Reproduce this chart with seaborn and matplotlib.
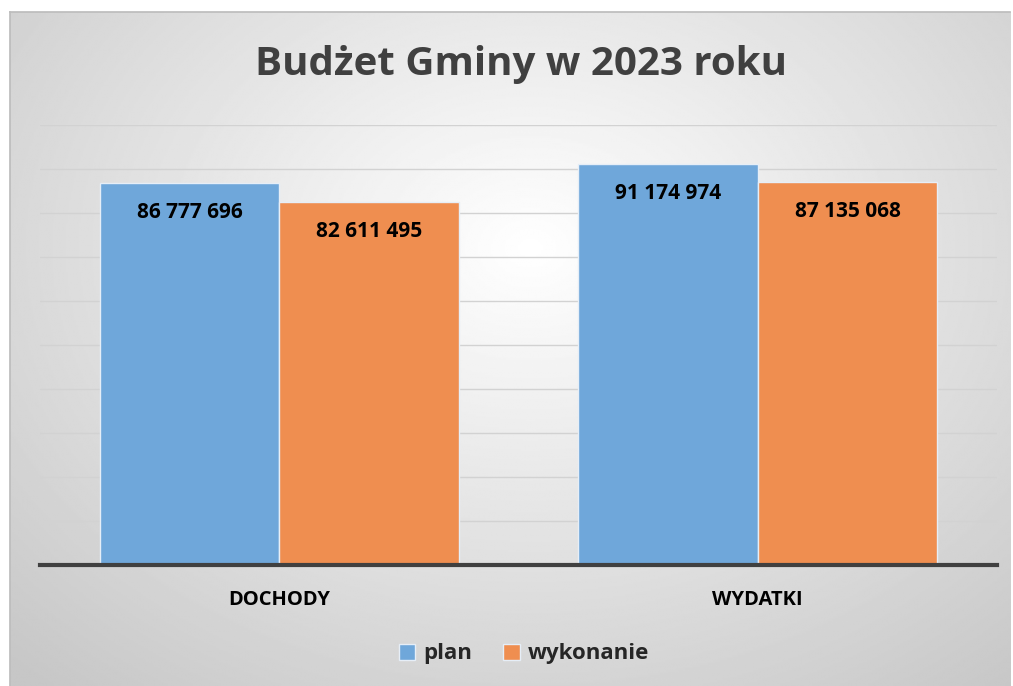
import matplotlib
matplotlib.use('Agg')

import matplotlib.pyplot as plt
import numpy as np
import pandas as pd
import seaborn as sns

# Data
categories = ["DOCHODY", "WYDATKI"]
series = ["plan", "wykonanie"]
plan = [86777696, 91174974]
wykonanie = [82611495, 87135068]
value_labels = {"plan": ["86 777 696", "91 174 974"],
                "wykonanie": ["82 611 495", "87 135 068"]}

df = pd.DataFrame({
    "kategoria": categories * 2,
    "seria": ["plan"] * 2 + ["wykonanie"] * 2,
    "wartosc": plan + wykonanie,
})

colors = {"plan": "#6fa7da", "wykonanie": "#ef8e50"}

sns.set_theme(style="white")
plt.rcParams['font.family'] = ['Open Sans', 'DejaVu Sans']

fig = plt.figure(figsize=(10.13, 6.86), dpi=100)
fig.patch.set_facecolor("white")

# radial gradient background panel
bg = fig.add_axes([10 / 1013, 0, 1000 / 1013, 674 / 686], zorder=-10)
yy, xx = np.mgrid[0:1:400j, 0:1:600j]
r = np.sqrt(((xx - 0.52) / 0.75) ** 2 + ((yy - 0.35) / 0.85) ** 2)
shade = np.clip(1.0 - 0.22 * r, 0.78, 1.0)
bg.imshow(shade, cmap="gray", vmin=0, vmax=1, aspect="auto",
          extent=[0, 1, 1, 0], interpolation="bilinear")
bg.set_xlim(0, 1)
bg.set_ylim(1, 0)
bg.set_xticks([])
bg.set_yticks([])
for s in bg.spines.values():
    s.set_visible(False)
bg.spines["left"].set_visible(True)
bg.spines["top"].set_visible(True)
bg.spines["left"].set_color("#bdbdbd")
bg.spines["top"].set_color("#bdbdbd")

ax = fig.add_axes([40 / 1013, (686 - 565) / 686, 957 / 1013, 440 / 686])
ax.patch.set_alpha(0)

sns.barplot(data=df, x="kategoria", y="wartosc", hue="seria",
            palette=colors, saturation=1, width=0.75, gap=0, ax=ax,
            edgecolor="#e6eef7", linewidth=1, legend=False, zorder=3)

ax.set_ylim(0, 100_000_000)
ax.set_xlim(-0.5, 1.5)
ax.set_yticks(np.arange(10_000_000, 100_000_001, 10_000_000))
ax.yaxis.grid(True, color="#d2d2d2", linewidth=1)
ax.set_axisbelow(True)
ax.tick_params(axis="y", left=False, labelleft=False)
ax.tick_params(axis="x", bottom=False, pad=12)
for lbl in ax.get_xticklabels():
    lbl.set_fontweight("bold")
    lbl.set_fontsize(14.5)
    lbl.set_color("black")
ax.set_xlabel("")
ax.set_ylabel("")
for side in ["top", "right", "left"]:
    ax.spines[side].set_visible(False)
ax.spines["bottom"].set_color("#404040")
ax.spines["bottom"].set_linewidth(3)
ax.spines["bottom"].set_zorder(4)

# value labels inside the bars
for container, name in zip(ax.containers, series):
    ax.bar_label(container, labels=value_labels[name], label_type="edge",
                 padding=-29, fontsize=15, fontweight="bold", color="black")

fig.text(0.514, 1 - 65 / 686, "Budżet Gminy w 2023 roku", ha="center",
         va="center", fontsize=29, fontweight="bold", color="#404040")

# legend
handles = [plt.Rectangle((0, 0), 1, 1, facecolor=colors[s], edgecolor="#e6eef7")
           for s in series]
fig.legend(handles, series, loc="center", bbox_to_anchor=(0.517, 1 - 654 / 686),
           ncol=2, frameon=False, handlelength=0.75, handleheight=0.75,
           handletextpad=0.35, columnspacing=1.4,
           prop={"weight": "bold", "size": 16})

fig.savefig("out.png", dpi=100)
